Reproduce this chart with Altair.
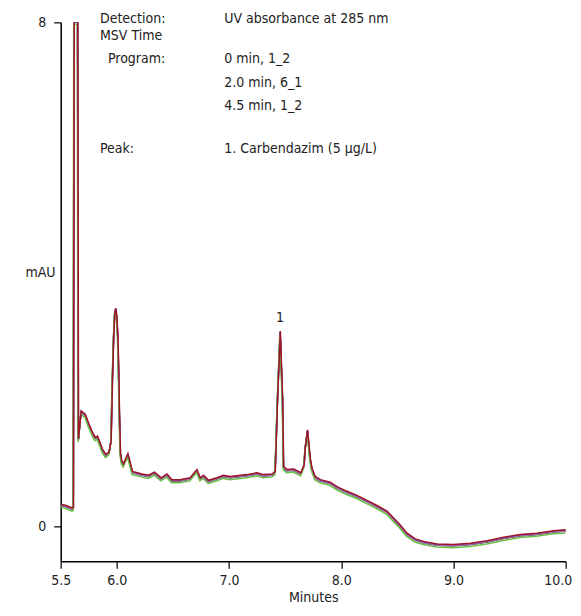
import altair as alt
import pandas as pd

# ---- data ----
time_min = [5.503, 5.547, 5.603, 5.612, 5.618, 5.650, 5.657, 5.681, 5.717, 5.746,
            5.776, 5.806, 5.826, 5.850, 5.871, 5.901, 5.930, 5.948, 5.960, 5.971,
            5.981, 5.990, 5.999, 6.008, 6.015, 6.022, 6.031, 6.042, 6.058, 6.097,
            6.138, 6.222, 6.281, 6.334, 6.394, 6.445, 6.489, 6.563, 6.652, 6.712,
            6.742, 6.771, 6.816, 6.890, 6.949, 7.009, 7.158, 7.247, 7.306, 7.381,
            7.410, 7.431, 7.455, 7.476, 7.485, 7.514, 7.573, 7.618, 7.639, 7.668,
            7.677, 7.698, 7.722, 7.737, 7.766, 7.811, 7.900, 7.960, 8.049, 8.138,
            8.227, 8.316, 8.406, 8.464, 8.524, 8.584, 8.658, 8.732, 8.851, 8.999,
            9.148, 9.297, 9.445, 9.595, 9.742, 9.890, 10.0]
signal_mau = [0.33, 0.31, 0.27, 0.28, 8.0, 8.0, 1.37, 1.81, 1.76, 1.62,
              1.49, 1.39, 1.41, 1.30, 1.20, 1.12, 1.16, 1.35, 2.33, 3.00,
              3.38, 3.44, 3.30, 3.00, 2.50, 1.80, 1.15, 1.02, 0.97, 1.13,
              0.85, 0.81, 0.79, 0.84, 0.75, 0.81, 0.72, 0.72, 0.75, 0.88,
              0.75, 0.79, 0.71, 0.75, 0.79, 0.77, 0.80, 0.83, 0.80, 0.81,
              0.85, 2.00, 3.08, 2.00, 0.93, 0.88, 0.89, 0.85, 0.83, 0.96,
              1.22, 1.51, 1.06, 0.905, 0.77, 0.72, 0.68, 0.61, 0.535, 0.47,
              0.39, 0.31, 0.22, 0.11, 0.0, -0.13, -0.22, -0.26, -0.30, -0.31,
              -0.29, -0.25, -0.195, -0.15, -0.13, -0.09, -0.075]

run_names = ["Run 1", "Run 2", "Run 3", "Run 4", "Run 5"]
run_colors = ["#111111", "#3a4fb0", "#9a6ab0", "#6abf45", "#a0142a"]
run_offset_mau = [0.0, 0.01, 0.0, -0.03, 0.02]
run_shift_min = [0.0, 0.001, 0.0, -0.002, 0.002]

label_col = ["Detection:", "MSV Time", "Program:", "Peak:"]
label_col_x = [5.850, 5.850, 5.921, 5.850]
label_col_y = [7.99, 7.72, 7.35, 5.92]
value_col = ["UV absorbance at 285 nm", "0 min, 1_2", "2.0 min, 6_1", "4.5 min, 1_2",
             "1. Carbendazim (5 µg/L)"]
value_col_x = [6.957, 6.957, 6.957, 6.957, 6.957]
value_col_y = [7.99, 7.35, 6.97, 6.61, 5.92]
peak_labels = ["1"]
peak_label_x = [7.455]
peak_label_y = [3.25]

x_ticks = [5.5, 6.0, 7.0, 8.0, 9.0, 10.0]
y_ticks = [0, 8]

FONT = "DejaVu Sans Condensed, Liberation Sans, Arial, sans-serif"
FS = 14
TXT = "#222222"

rows = []
for name, off, sh in zip(run_names, run_offset_mau, run_shift_min):
    for i, (t, v) in enumerate(zip(time_min, signal_mau)):
        rows.append({"run": name, "t": t + sh, "mAU": v + off, "i": i})
df = pd.DataFrame(rows)

xscale = alt.Scale(domain=[5.5, 10.0], nice=False, zero=False)
yscale = alt.Scale(domain=[-0.556, 8.0], nice=False, zero=False)

lines = alt.Chart(df).mark_line(strokeWidth=1.5, clip=True).encode(
    x=alt.X("t:Q", scale=xscale,
            axis=alt.Axis(values=x_ticks, format=".1f", title="Minutes", grid=False,
                          domainColor="black", domainWidth=1.5, tickColor="#333333",
                          tickWidth=1.5, tickSize=7, labelPadding=5, labelFontSize=FS,
                          labelFont=FONT, labelColor=TXT, titleFont=FONT,
                          titleFontSize=FS, titleFontWeight="normal",
                          titleColor=TXT, titlePadding=3, labelFlush=False,
                          labelAlign={"condition": {"test": "datum.value >= 10",
                                                    "value": "right"},
                                      "value": "center"},
                          labelOffset={"condition": {"test": "datum.value >= 10",
                                                     "value": 6},
                                       "value": 0})),
    y=alt.Y("mAU:Q", scale=yscale,
            axis=alt.Axis(values=y_ticks, format="d", title="mAU", grid=False,
                          domainColor="black", domainWidth=1.5, tickColor="#333333",
                          tickWidth=1.5, tickSize=7, labelPadding=8, labelFontSize=FS,
                          labelFont=FONT, labelColor=TXT, titleFont=FONT,
                          titleFontSize=FS, titleFontWeight="normal",
                          titleColor=TXT, titleAngle=0, titleX=-20.7,
                          titleY=249.7, titleAlign="center", titleBaseline="middle")),
    color=alt.Color("run:N", scale=alt.Scale(domain=run_names, range=run_colors),
                    legend=None),
    order="i:Q",
)

lab_df = pd.DataFrame({"x": label_col_x, "y": label_col_y, "text": label_col})
val_df = pd.DataFrame({"x": value_col_x, "y": value_col_y, "text": value_col})
pk_df = pd.DataFrame({"x": peak_label_x, "y": peak_label_y, "text": peak_labels})

labels = alt.Chart(lab_df).mark_text(align="left", baseline="alphabetic", font=FONT,
                                     fontSize=FS, color=TXT).encode(
    x=alt.X("x:Q", scale=xscale), y=alt.Y("y:Q", scale=yscale), text="text:N")
values = alt.Chart(val_df).mark_text(align="left", baseline="alphabetic", font=FONT,
                                     fontSize=FS, color=TXT).encode(
    x=alt.X("x:Q", scale=xscale), y=alt.Y("y:Q", scale=yscale), text="text:N")
peaks = alt.Chart(pk_df).mark_text(align="center", baseline="alphabetic", font=FONT,
                                   fontSize=FS, color=TXT).encode(
    x=alt.X("x:Q", scale=xscale), y=alt.Y("y:Q", scale=yscale), text="text:N")

chart = alt.layer(lines, labels, values, peaks).properties(
    width=505, height=539,
    autosize=alt.AutoSizeParams(type="none"),
    padding={"left": 52.7, "top": 14.3, "right": 7.3, "bottom": 44.7},
    background="white",
).configure_view(stroke=None)

chart.save("out.html", embed_options={"renderer": "svg", "actions": False})
